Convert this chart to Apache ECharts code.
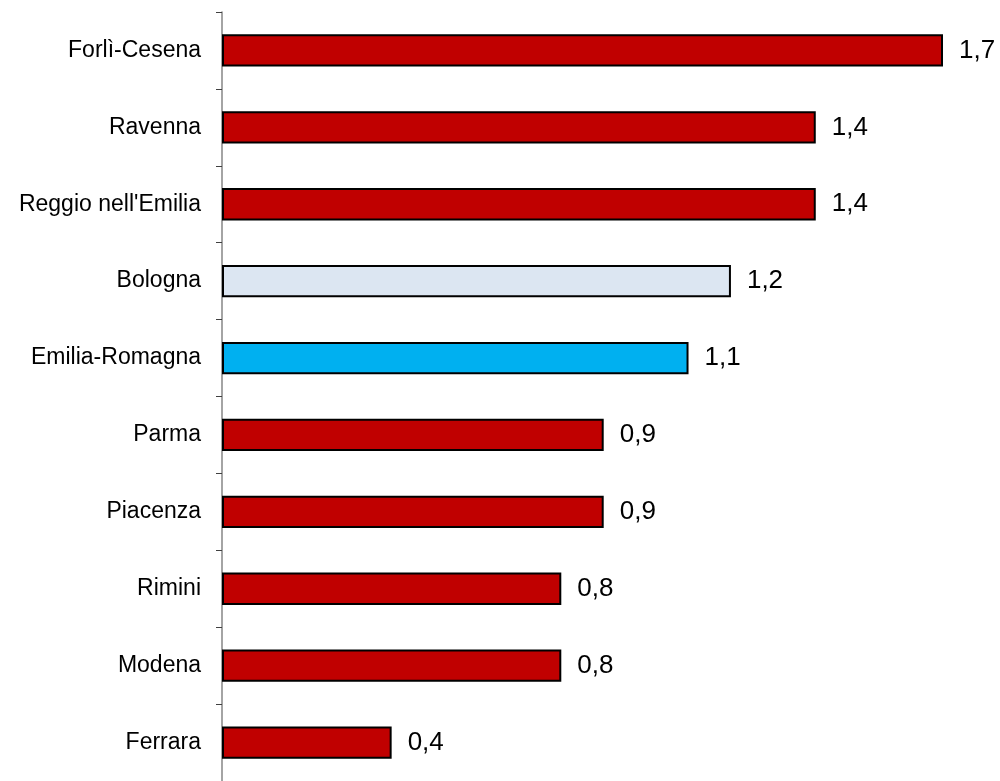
<!DOCTYPE html>
<html><head><meta charset="utf-8">
<script src="https://cdn.jsdelivr.net/npm/echarts@6/dist/echarts.min.js"></script>
<style>html,body{margin:0;padding:0;background:#fff}#c{width:1000px;height:781px}</style>
</head><body><div id="c"></div>
<script>
const categories = ["Forlì-Cesena","Ravenna","Reggio nell'Emilia","Bologna","Emilia-Romagna","Parma","Piacenza","Rimini","Modena","Ferrara"];
const values = [1.7,1.4,1.4,1.2,1.1,0.9,0.9,0.8,0.8,0.4];
const colors = {"Bologna":"#DCE6F2","Emilia-Romagna":"#00B0F0"};
const defaultColor = "#C00000";
const chart = echarts.init(document.getElementById('c'));
chart.setOption({
  animation:false,
  grid:{left:222,top:12,width:721,bottom:0,containLabel:false},
  xAxis:{type:'value',min:0,max:1.7,show:false},
  yAxis:{type:'category',data:categories,inverse:true,
    axisLine:{show:true,lineStyle:{color:'#868686',width:1.5}},
    axisTick:{show:true,alignWithLabel:false,length:6,lineStyle:{color:'#404040',width:1}},
    axisLabel:{color:'#000',fontFamily:'Liberation Sans, Arial',fontSize:23,margin:21}},
  series:[{type:'bar',barWidth:'42%',
    data:categories.map((c,i)=>({value:values[i],itemStyle:{color:colors[c]||defaultColor}})),
    itemStyle:{borderColor:'#000',borderWidth:2},
    label:{show:true,position:'right',distance:16,color:'#000',fontFamily:'Liberation Sans, Arial',fontSize:26,
      formatter:p=>p.value.toFixed(1).replace('.',',')}}]
});
</script></body></html>
